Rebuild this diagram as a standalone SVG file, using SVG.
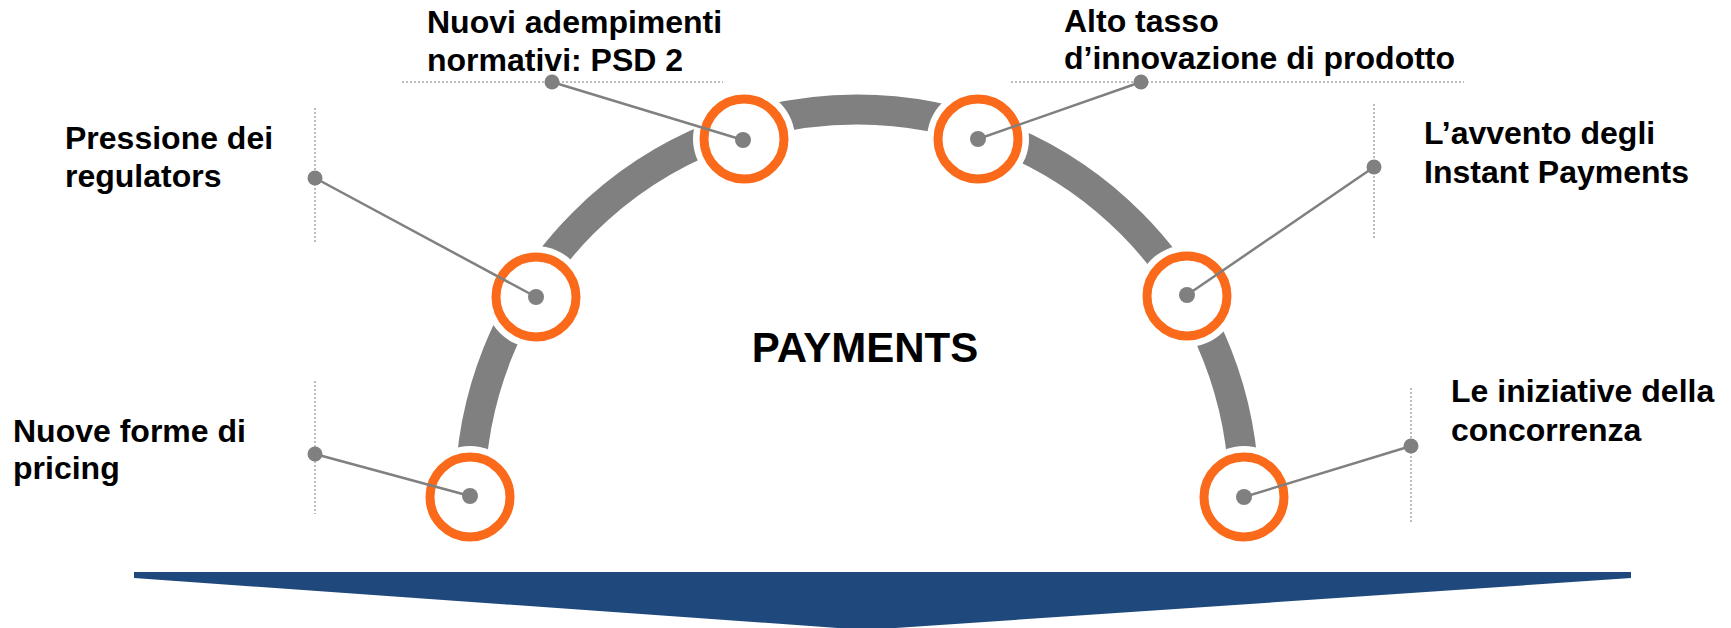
<svg xmlns="http://www.w3.org/2000/svg" width="1731" height="628" viewBox="0 0 1731 628">
<style>
.lbl{font-family:"Liberation Sans",Arial,sans-serif;font-weight:bold;font-size:32px;fill:#000}
.title{font-family:"Liberation Sans",Arial,sans-serif;font-weight:bold;font-size:42px;fill:#000}
.halo{fill:#fff}
.ring{fill:none;stroke:#FB6A1B;stroke-width:9}
.dot{fill:#808080}
.guide{fill:none;stroke:#A6A6A6;stroke-width:1.5;stroke-dasharray:2 2}
.conn{fill:none;stroke:#808080;stroke-width:2.5}
</style>
<rect width="1731" height="628" fill="#fff"/>
<g id="arc">
<path d="M470,496 A387,387 0 0 1 1244,497" fill="none" stroke="#808080" stroke-width="30"/>
</g>
<g id="title"><text class="title" x="865" y="362" text-anchor="middle">PAYMENTS</text></g>
<g id="node-pricing">
<circle class="halo" cx="470" cy="497" r="51"/>
<circle class="ring" cx="470" cy="497" r="40"/>
<circle class="dot" cx="470" cy="496" r="8"/>
<line class="guide" x1="315" y1="381" x2="315" y2="514"/>
<text class="lbl"><tspan x="13" y="442">Nuove forme di</tspan><tspan x="13" y="479">pricing</tspan></text>
</g>
<g id="node-regulators">
<circle class="halo" cx="536" cy="297" r="51"/>
<circle class="ring" cx="536" cy="297" r="40"/>
<circle class="dot" cx="536" cy="297" r="8"/>
<line class="guide" x1="315" y1="108" x2="315" y2="242"/>
<text class="lbl"><tspan x="65" y="149">Pressione dei</tspan><tspan x="65" y="187">regulators</tspan></text>
</g>
<g id="node-psd2">
<circle class="halo" cx="744" cy="139" r="51"/>
<circle class="ring" cx="744" cy="139" r="40"/>
<circle class="dot" cx="743" cy="140" r="8"/>
<line class="guide" x1="402" y1="82" x2="723" y2="82"/>
<text class="lbl"><tspan x="427" y="33">Nuovi adempimenti</tspan><tspan x="427" y="71">normativi: PSD 2</tspan></text>
</g>
<g id="node-innovazione">
<circle class="halo" cx="978" cy="139" r="51"/>
<circle class="ring" cx="978" cy="139" r="40"/>
<circle class="dot" cx="978" cy="139" r="8"/>
<line class="guide" x1="1011" y1="82" x2="1464" y2="82"/>
<text class="lbl"><tspan x="1064" y="32">Alto tasso</tspan><tspan x="1064" y="69">d’innovazione di prodotto</tspan></text>
</g>
<g id="node-instant">
<circle class="halo" cx="1187" cy="296" r="51"/>
<circle class="ring" cx="1187" cy="296" r="40"/>
<circle class="dot" cx="1187" cy="295" r="8"/>
<line class="guide" x1="1374" y1="104" x2="1374" y2="238"/>
<text class="lbl"><tspan x="1424" y="144">L’avvento degli</tspan><tspan x="1424" y="183">Instant Payments</tspan></text>
</g>
<g id="node-concorrenza">
<circle class="halo" cx="1244" cy="497" r="51"/>
<circle class="ring" cx="1244" cy="497" r="40"/>
<circle class="dot" cx="1244" cy="497" r="8"/>
<line class="guide" x1="1411" y1="388" x2="1411" y2="522"/>
<text class="lbl"><tspan x="1451" y="402">Le iniziative della</tspan><tspan x="1451" y="441">concorrenza</tspan></text>
</g>
<g id="connectors">
<line class="conn" x1="315" y1="454" x2="470" y2="496"/>
<circle class="dot" cx="315" cy="454" r="7.5"/>
<line class="conn" x1="315" y1="178" x2="536" y2="297"/>
<circle class="dot" cx="315" cy="178" r="7.5"/>
<line class="conn" x1="552" y1="82" x2="743" y2="140"/>
<circle class="dot" cx="552" cy="82" r="7.5"/>
<line class="conn" x1="1141" y1="82" x2="978" y2="139"/>
<circle class="dot" cx="1141" cy="82" r="7.5"/>
<line class="conn" x1="1374" y1="167" x2="1187" y2="295"/>
<circle class="dot" cx="1374" cy="167" r="7.5"/>
<line class="conn" x1="1411" y1="446" x2="1244" y2="497"/>
<circle class="dot" cx="1411" cy="446" r="7.5"/>
</g>
<g id="arrow">
<polygon points="134,572 1631,572 1631,578 866,630 134,578" fill="#1F497D"/>
</g>
</svg>
